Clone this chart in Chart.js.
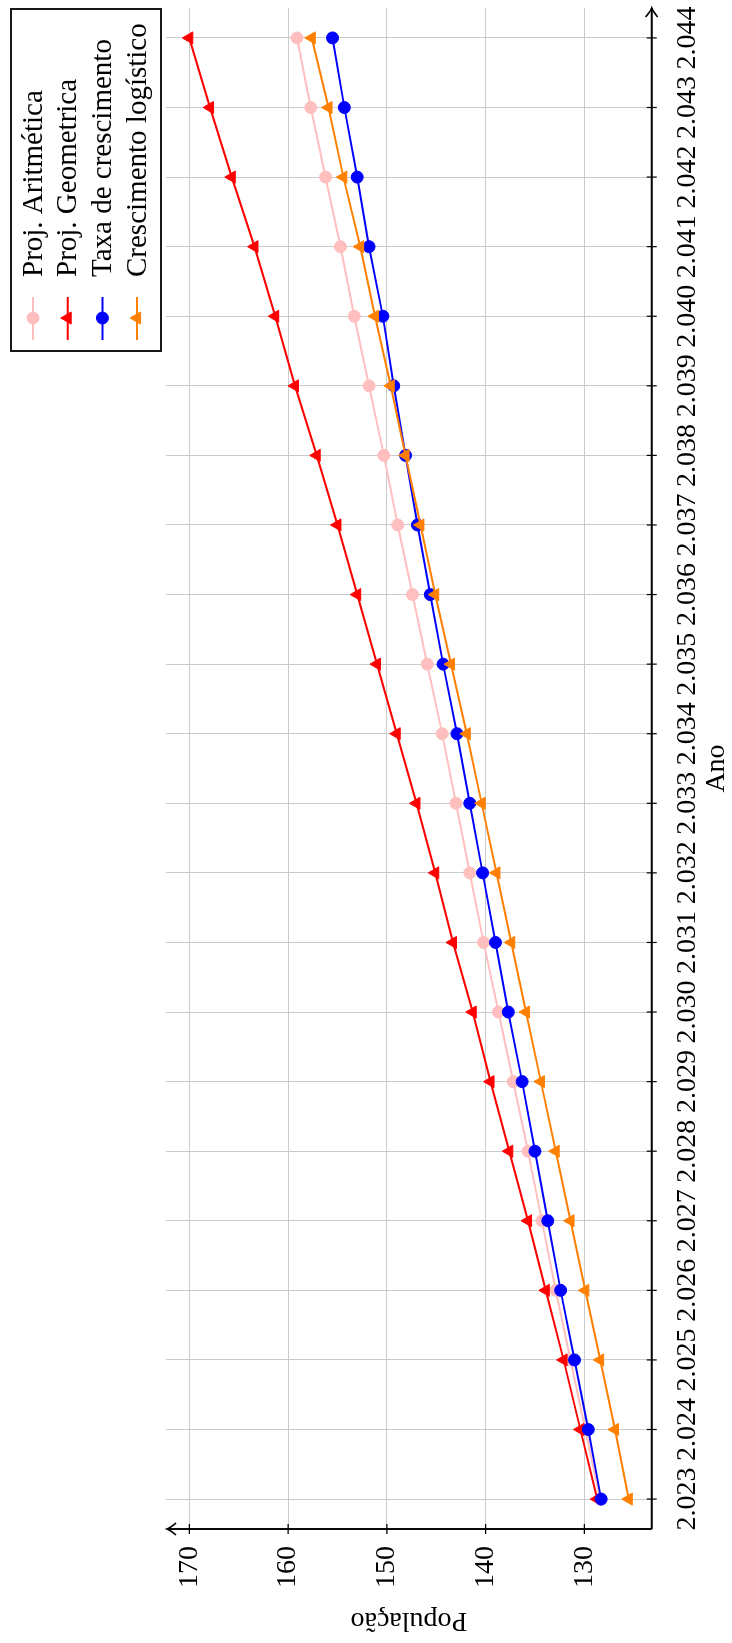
<!DOCTYPE html>
<html>
<head>
<meta charset="utf-8">
<script src="https://cdn.jsdelivr.net/npm/chart.js@4.4.1/dist/chart.umd.min.js"></script>
<style>
  html, body { margin: 0; padding: 0; background: #fff; overflow: hidden; }
  #wrap {
    position: absolute; left: 0; top: 0;
    width: 1643px; height: 732px;
    transform-origin: 0 0;
    transform: translate(0, 1643px) rotate(-90deg);
  }
</style>
</head>
<body>
<div id="wrap"><canvas id="grafico" width="1643" height="732"></canvas></div>
<script>
const anos = [2023, 2024, 2025, 2026, 2027, 2028, 2029, 2030, 2031, 2032, 2033,
              2034, 2035, 2036, 2037, 2038, 2039, 2040, 2041, 2042, 2043, 2044];

const projAritmetica = [128.4, 129.9, 131.4, 132.9, 134.3, 135.7, 137.2, 138.7, 140.2, 141.6, 143.0,
                        144.4, 145.9, 147.4, 148.9, 150.3, 151.8, 153.3, 154.7, 156.2, 157.7, 159.1];
const projGeometrica = [128.7, 130.4, 132.1, 133.9, 135.7, 137.6, 139.5, 141.3, 143.3, 145.1, 147.0,
                        149.0, 151.0, 153.0, 155.0, 157.1, 159.3, 161.3, 163.4, 165.7, 167.9, 170.0];
const taxaCrescimento = [128.3, 129.6, 131.0, 132.4, 133.7, 135.0, 136.3, 137.7, 139.0, 140.3, 141.6,
                         142.9, 144.3, 145.6, 146.9, 148.1, 149.3, 150.4, 151.8, 153.0, 154.3, 155.5];
const crescLogistico = [125.5, 126.9, 128.4, 129.9, 131.4, 132.9, 134.4, 135.9, 137.4, 138.9, 140.4,
                        141.9, 143.5, 145.1, 146.6, 148.1, 149.6, 151.2, 152.7, 154.4, 155.9, 157.6];

const nomes = ["Proj. Aritmética", "Proj. Geometrica", "Taxa de crescimento", "Crescimento logístico"];
const cores = ["#ffbfbf", "#ff0000", "#0000ff", "#ff8000"];
const marcadores = ["circle", "triangle", "circle", "triangle"];
const series = [projAritmetica, projGeometrica, taxaCrescimento, crescLogistico];

const fonte = "Liberation Serif";

function formatoAno(v) {
  return Math.floor(v / 1000) + "." + String(v % 1000).padStart(3, "0");
}

// eixos com setas e pequenos traços, mais a legenda
const eixosPlugin = {
  id: "eixos",
  afterDraw(chart) {
    const ctx = chart.ctx;
    const a = chart.chartArea;
    const sx = chart.scales.x, sy = chart.scales.y;
    ctx.save();
    ctx.strokeStyle = "#000";
    ctx.lineWidth = 1.9;
    ctx.beginPath();
    ctx.moveTo(a.left, a.bottom);
    ctx.lineTo(a.right, a.bottom);
    ctx.moveTo(a.left, a.bottom);
    ctx.lineTo(a.left, a.top + 1);
    ctx.stroke();
    // setas
    ctx.lineWidth = 1.6;
    ctx.beginPath();
    ctx.moveTo(a.right - 9, a.bottom - 6);
    ctx.quadraticCurveTo(a.right - 3, a.bottom - 1, a.right, a.bottom);
    ctx.quadraticCurveTo(a.right - 3, a.bottom + 1, a.right - 9, a.bottom + 6);
    ctx.moveTo(a.left - 6, a.top + 10);
    ctx.quadraticCurveTo(a.left - 1, a.top + 4, a.left, a.top + 1);
    ctx.quadraticCurveTo(a.left + 1, a.top + 4, a.left + 6, a.top + 10);
    ctx.stroke();
    // traços
    ctx.lineWidth = 1.2;
    ctx.beginPath();
    sx.ticks.forEach(t => {
      const px = sx.getPixelForValue(t.value);
      ctx.moveTo(px, a.bottom - 5);
      ctx.lineTo(px, a.bottom + 5);
    });
    sy.ticks.forEach(t => {
      const py = sy.getPixelForValue(t.value);
      ctx.moveTo(a.left - 5, py);
      ctx.lineTo(a.left + 5, py);
    });
    ctx.stroke();

    // legenda
    const box = { left: 1292, top: 11, right: 1634, bottom: 161 };
    ctx.fillStyle = "#fff";
    ctx.fillRect(box.left, box.top, box.right - box.left, box.bottom - box.top);
    ctx.lineWidth = 1.8;
    ctx.strokeStyle = "#000";
    ctx.strokeRect(box.left, box.top, box.right - box.left, box.bottom - box.top);
    ctx.font = "29px '" + fonte + "'";
    ctx.textBaseline = "middle";
    ctx.textAlign = "left";
    chart.data.datasets.forEach((ds, i) => {
      const y = box.top + 22 + i * 34.7;
      ctx.strokeStyle = ds.borderColor;
      ctx.lineWidth = ds.borderWidth;
      ctx.beginPath();
      ctx.moveTo(box.left + 11, y);
      ctx.lineTo(box.left + 54, y);
      ctx.stroke();
      ctx.fillStyle = ds.pointBackgroundColor;
      ctx.strokeStyle = ds.pointBorderColor;
      ctx.lineWidth = 1;
      Chart.helpers.drawPoint(ctx, {
        pointStyle: ds.pointStyle, radius: ds.pointRadius, rotation: 0, borderWidth: 1
      }, box.left + 33, y);
      ctx.fillStyle = "#000";
      ctx.fillText(ds.label, box.left + 74, y + 1);
    });
    ctx.restore();
  }
};

const datasets = series.map((vals, i) => ({
  label: nomes[i],
  data: anos.map((ano, k) => ({ x: ano, y: vals[k] })),
  borderColor: cores[i],
  backgroundColor: cores[i],
  pointBackgroundColor: cores[i],
  pointBorderColor: cores[i],
  borderWidth: 2,
  pointStyle: marcadores[i],
  pointRadius: marcadores[i] === "circle" ? 6 : 7,
  pointBorderWidth: 1,
  tension: 0,
  order: 4 - i
}));

new Chart(document.getElementById("grafico"), {
  type: "line",
  data: { datasets },
  plugins: [eixosPlugin],
  options: {
    responsive: false,
    animation: false,
    devicePixelRatio: 1,
    layout: { padding: { top: 166, right: 7.3, left: 0, bottom: 0 } },
    plugins: { legend: { display: false }, tooltip: { enabled: false } },
    scales: {
      x: {
        type: "linear",
        min: 2022.57,
        max: 2044.43,
        afterFit(s) { s.height = 80.3; s.paddingLeft = 0; s.paddingRight = 0; },
        border: { display: false },
        grid: { color: "#cbcbcb", lineWidth: 1, drawTicks: false },
        ticks: {
          stepSize: 1,
          includeBounds: false,
          maxRotation: 0,
          autoSkip: false,
          padding: 19,
          color: "#000",
          font: { family: fonte, size: 28 },
          callback: v => formatoAno(v)
        },
        title: {
          display: true,
          text: "Ano",
          color: "#000",
          font: { family: fonte, size: 28, lineHeight: 1 },
          padding: { top: 0, bottom: 1 }
        }
      },
      y: {
        min: 123.18,
        max: 172.36,
        afterFit(s) { s.width = 114; s.paddingTop = 0; s.paddingBottom = 0; },
        border: { display: false },
        grid: { color: "#cbcbcb", lineWidth: 1, drawTicks: false },
        ticks: {
          stepSize: 10,
          includeBounds: false,
          padding: 17,
          color: "#000",
          font: { family: fonte, size: 28 }
        },
        title: {
          display: true,
          text: "População",
          color: "#000",
          font: { family: fonte, size: 28, lineHeight: 1 },
          padding: { top: 9, bottom: 0 }
        }
      }
    }
  }
});
</script>
</body>
</html>
